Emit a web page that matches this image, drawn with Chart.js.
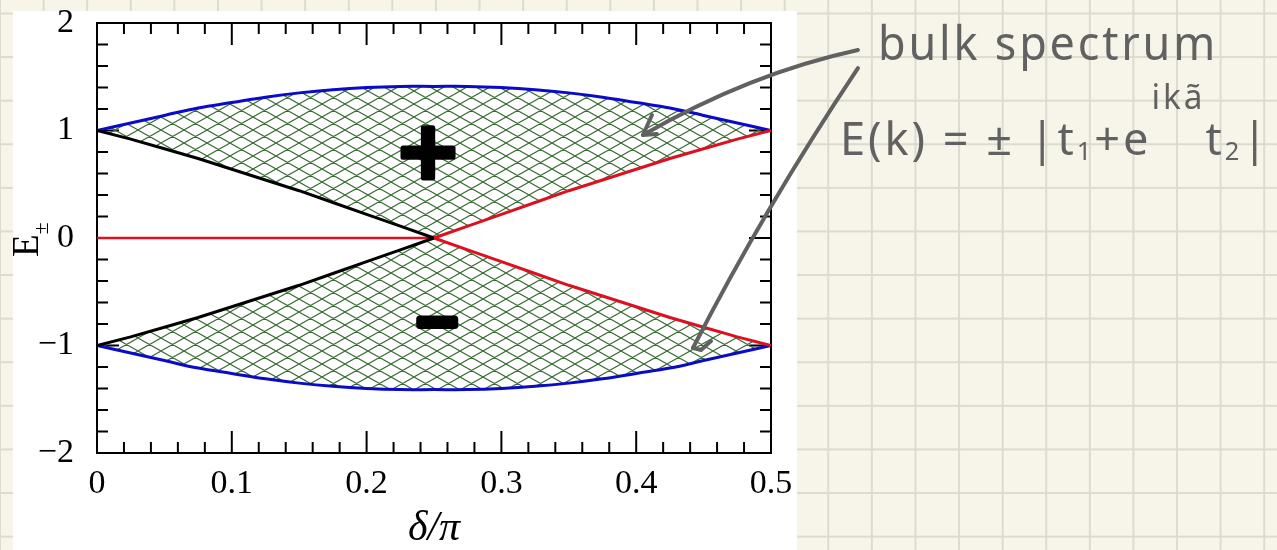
<!DOCTYPE html>
<html>
<head>
<meta charset="utf-8">
<script src="https://cdn.jsdelivr.net/npm/chart.js@4.4.1/dist/chart.umd.min.js"></script>
<style>
  html, body { margin: 0; padding: 0; }
  body {
    width: 1277px; height: 550px; position: relative; overflow: hidden;
    background-color: #f7f5ea;
    background-image:
      linear-gradient(to right, #dcdbd0 1.5px, transparent 1.5px),
      linear-gradient(to bottom, #dcdbd0 1.5px, transparent 1.5px);
    background-size: 43.6px 43.6px;
    background-position: -1px 12.5px;
  }
  #sheet { position: absolute; left: 13px; top: 11px; width: 784px; height: 539px; background: #fff; }
  #c { position: absolute; left: 0; top: 0; }
</style>
</head>
<body>
<div id="sheet"></div>
<canvas id="c" width="1277" height="550"></canvas>
<script>
// δ/π sample points
const deltaOverPi = [0, 0.025, 0.05, 0.075, 0.1, 0.125, 0.15, 0.175, 0.2, 0.225, 0.25,
                     0.275, 0.3, 0.325, 0.35, 0.375, 0.4, 0.425, 0.45, 0.475, 0.5];

// band edges E+ (outer = blue, inner = black/red)
const upperOuter = [1.00, 1.07, 1.14, 1.21, 1.26, 1.31, 1.35, 1.38, 1.40, 1.41, 1.41,
                    1.41, 1.40, 1.38, 1.35, 1.31, 1.26, 1.21, 1.14, 1.07, 1.00];
const upperInner = [1.00, 0.92, 0.83, 0.74, 0.64, 0.54, 0.44, 0.33, 0.22, 0.11, 0.00,
                    0.11, 0.22, 0.33, 0.44, 0.54, 0.64, 0.74, 0.83, 0.92, 1.00];
// band edges E-
const lowerInner = [-1.00, -0.92, -0.83, -0.74, -0.64, -0.54, -0.44, -0.33, -0.22, -0.11, 0.00,
                    -0.11, -0.22, -0.33, -0.44, -0.54, -0.64, -0.74, -0.83, -0.92, -1.00];
const lowerOuter = [-1.00, -1.07, -1.14, -1.21, -1.26, -1.31, -1.35, -1.38, -1.40, -1.41, -1.41,
                    -1.41, -1.40, -1.38, -1.35, -1.31, -1.26, -1.21, -1.14, -1.07, -1.00];

// zero-energy line
const zeroX = [0, 0.25];
const zeroY = [0, 0];

const xTickLabels = ['0', '0.1', '0.2', '0.3', '0.4', '0.5'];
const yTickLabels = ['\u22122', '\u22121', '0', '1', '2'];
const xMajor = [0.1, 0.2, 0.3, 0.4];
const yMajor = [-1, 0, 1];

const BLUE = '#0a0ac8', RED = '#dc1020', BLACK = '#000', HATCH = '#3a6c35', PEN = '#616161';
const SERIF = '"Liberation Serif", "DejaVu Serif", serif';

const pts = (xs, ys) => xs.map((x, i) => ({ x, y: ys[i] }));

// cross-hatch fill
function hatch() {
  const w = 23, h = 13;
  const c = document.createElement('canvas');
  c.width = w; c.height = h;
  const g = c.getContext('2d');
  g.strokeStyle = HATCH; g.lineWidth = 1.1;
  g.beginPath();
  for (const k of [-1, 0, 1]) {
    g.moveTo(k * w, k * h); g.lineTo((k + 1) * w, (k + 1) * h);
    g.moveTo(k * w, h - k * h); g.lineTo((k + 1) * w, -k * h);
  }
  g.stroke();
  return g.createPattern(c, 'repeat');
}

const splitColor = ctx => ctx.p0.parsed.x < 0.25 ? BLACK : RED;

// frame with inward ticks on all four sides, plus the rotated y title
const frame = {
  id: 'frame',
  beforeDatasetsDraw(chart) {
    const { ctx, chartArea: a, scales: { x, y } } = chart;
    ctx.save();
    ctx.strokeStyle = '#000';
    ctx.lineWidth = 2;
    ctx.beginPath();
    const tickX = (v, len) => {
      const p = x.getPixelForValue(v);
      ctx.moveTo(p, a.bottom); ctx.lineTo(p, a.bottom - len);
      ctx.moveTo(p, a.top); ctx.lineTo(p, a.top + len);
    };
    const tickY = (v, len) => {
      const p = y.getPixelForValue(v);
      ctx.moveTo(a.left, p); ctx.lineTo(a.left + len, p);
      ctx.moveTo(a.right, p); ctx.lineTo(a.right - len, p);
    };
    for (let i = 1; i < 25; i++) if (i % 5) tickX(i * 0.02, 11);
    for (let i = -9; i < 10; i++) if (i % 5) tickY(i * 0.2, 11);
    xMajor.forEach(v => tickX(v, 22));
    yMajor.forEach(v => tickY(v, 22));
    ctx.stroke();
    ctx.strokeRect(a.left, a.top, a.right - a.left, a.bottom - a.top);

    // E± axis title
    ctx.fillStyle = '#000';
    ctx.translate(38, 257);
    ctx.rotate(-Math.PI / 2);
    ctx.textAlign = 'left';
    ctx.textBaseline = 'alphabetic';
    ctx.font = '37px ' + SERIF;
    ctx.fillText('E', 0, 0);
    const wE = ctx.measureText('E').width;
    ctx.font = '22px ' + SERIF;
    ctx.fillText('\u00b1', wE, 10);
    ctx.restore();
  }
};

// handwritten notes, anchored in data units
const penMarks = [
  { text: '+', at: [0.2455, 0.80], size: 80, stroke: 5 },
  { text: '\u2212', at: [0.252, -0.79], size: 56, stroke: 7 }
];
const arrows = [
  { from: [0.5645, 1.749], bend: [0.4841, 1.530], to: [0.4050, 0.958],
    head: [[0.4117, 1.144], null, [0.4154, 0.967]] },
  { from: [0.5645, 1.581], bend: [0.4952, 0.279], to: [0.4421, -1.023],
    head: [null, [0.4481, -1.042], [0.4555, -0.958]] }
];
const caption = { text: 'bulk spectrum', at: [0.5794, 1.656], size: 48, width: 340 };
const formula = {
  at: [0.5512, 0.772], width: 430,
  parts: [['E(k) = \u00b1 |t', 46, 0], ['1', 26, 5], ['+e', 46, 0], ['ik\u00e3', 34, -46],
          ['t', 46, 0], ['2', 26, 5], ['|', 46, 0]]
};

const notes = {
  id: 'notes',
  afterDraw(chart) {
    const { ctx, scales: { x, y } } = chart;
    const P = p => [x.getPixelForValue(p[0]), y.getPixelForValue(p[1])];
    ctx.save();
    ctx.lineCap = 'round';
    ctx.lineJoin = 'round';

    // + / − marks
    ctx.fillStyle = ctx.strokeStyle = '#000';
    penMarks.forEach(m => {
      ctx.font = 'bold ' + m.size + 'px "DejaVu Sans"';
      ctx.lineWidth = m.stroke;
      const t = ctx.measureText(m.text);
      const [cx, cy] = P(m.at);
      const px = cx - (t.actualBoundingBoxRight - t.actualBoundingBoxLeft) / 2;
      const py = cy + (t.actualBoundingBoxAscent - t.actualBoundingBoxDescent) / 2;
      ctx.fillText(m.text, px, py);
      ctx.strokeText(m.text, px, py);
    });

    // arrows
    ctx.strokeStyle = ctx.fillStyle = PEN;
    ctx.lineWidth = 4;
    arrows.forEach(a => {
      const p0 = P(a.from), c = P(a.bend), p1 = P(a.to);
      ctx.beginPath();
      ctx.moveTo(...p0);
      ctx.quadraticCurveTo(...c, ...p1);
      ctx.stroke();
      ctx.beginPath();
      const [h0, h1, h2] = a.head;
      if (h0) { ctx.moveTo(...P(h0)); ctx.lineTo(...p1); }
      else { ctx.moveTo(...p1); ctx.lineTo(...P(h1)); }
      ctx.lineTo(...P(h2));
      ctx.stroke();
    });

    // handwriting
    const hand = s => s + 'px "Noto Sans", "DejaVu Sans", sans-serif';
    ctx.textAlign = 'left';
    ctx.textBaseline = 'alphabetic';
    ctx.letterSpacing = '3px';
    ctx.font = hand(caption.size);
    let [tx, ty] = P(caption.at);
    let k = caption.width / ctx.measureText(caption.text).width;
    ctx.save();
    ctx.translate(tx, ty); ctx.scale(k, 1);
    ctx.fillText(caption.text, 0, 0);
    ctx.restore();

    [tx, ty] = P(formula.at);
    let total = 0;
    formula.parts.forEach(([s, size]) => { ctx.font = hand(size); total += ctx.measureText(s).width; });
    k = formula.width / total;
    ctx.save();
    ctx.translate(tx, ty); ctx.scale(k, 1);
    let cur = 0;
    formula.parts.forEach(([s, size, dy]) => {
      ctx.font = hand(size);
      ctx.fillText(s, cur, dy);
      cur += ctx.measureText(s).width;
    });
    ctx.restore();
    ctx.restore();
  }
};

const fillPattern = hatch();

new Chart(document.getElementById('c'), {
  type: 'line',
  data: {
    datasets: [
      { data: pts(deltaOverPi, upperInner), borderWidth: 3, tension: 0, fill: false,
        borderColor: BLACK, segment: { borderColor: splitColor } },
      { data: pts(deltaOverPi, lowerInner), borderWidth: 3, tension: 0, fill: false,
        borderColor: BLACK, segment: { borderColor: splitColor } },
      { data: pts(zeroX, zeroY), borderWidth: 2.5, borderColor: RED, fill: false },
      { data: pts(deltaOverPi, upperOuter), borderWidth: 3, borderColor: BLUE,
        tension: 0.4, fill: '-3', backgroundColor: fillPattern },
      { data: pts(deltaOverPi, lowerOuter), borderWidth: 3, borderColor: BLUE,
        tension: 0.4, fill: '-3', backgroundColor: fillPattern }
    ]
  },
  options: {
    responsive: false,
    animation: false,
    layout: { padding: { top: 23, right: 506, left: 0, bottom: 0 } },
    elements: { point: { radius: 0 } },
    plugins: { legend: { display: false }, tooltip: { enabled: false } },
    scales: {
      x: {
        type: 'linear', min: 0, max: 0.5,
        afterFit(s) { s.height = 97; s.paddingLeft = 0; s.paddingRight = 0; },
        grid: { display: false, drawTicks: false },
        border: { display: false },
        ticks: {
          stepSize: 0.1, padding: 11, color: '#000', maxRotation: 0, autoSkip: false,
          font: { family: SERIF, size: 34 },
          callback: (v, i) => xTickLabels[i]
        },
        title: {
          display: true, text: '\u03b4/\u03c0', color: '#000',
          font: { family: SERIF, size: 42, style: 'italic', lineHeight: 1 },
          padding: { top: 0, bottom: 0 }
        }
      },
      y: {
        type: 'linear', min: -2, max: 2,
        // labels may overhang the plot edges; keep the plot box fixed
        afterFit(s) { s.width = 97; s.paddingTop = 0; s.paddingBottom = 0; },
        grid: { display: false, drawTicks: false },
        border: { display: false },
        ticks: {
          stepSize: 1, padding: 23, color: '#000',
          font: { family: SERIF, size: 34 },
          callback: (v, i) => yTickLabels[i]
        }
      }
    }
  },
  plugins: [frame, notes]
});
</script>
</body>
</html>
